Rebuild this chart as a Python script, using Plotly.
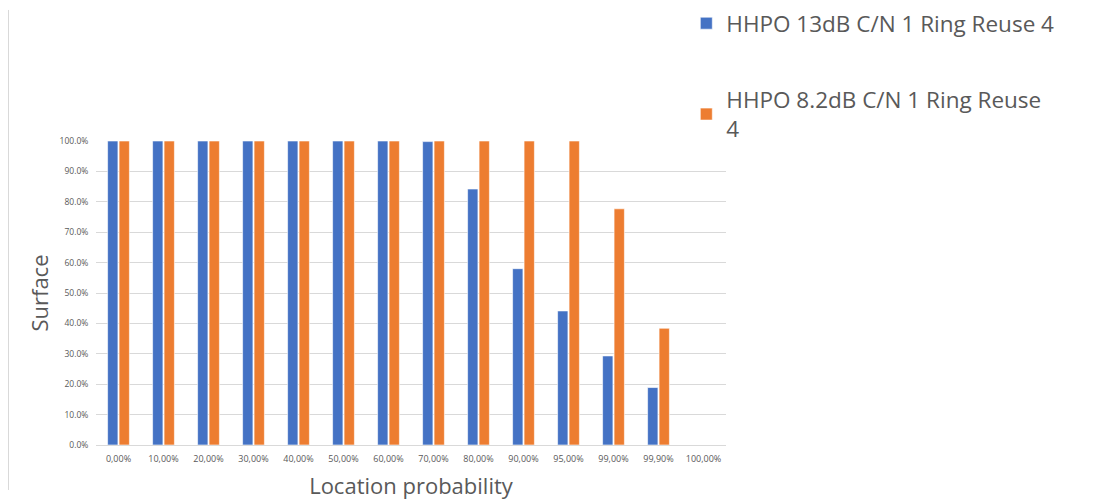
import plotly.graph_objects as go

CATEGORIES = ["0,00%", "10,00%", "20,00%", "30,00%", "40,00%", "50,00%", "60,00%",
              "70,00%", "80,00%", "90,00%", "95,00%", "99,00%", "99,90%", "100,00%"]
HHPO_13DB = [1.0, 1.0, 1.0, 1.0, 1.0, 1.0, 1.0, 0.998, 0.842, 0.580, 0.441, 0.293, 0.189, 0.0]
HHPO_8_2DB = [1.0, 1.0, 1.0, 1.0, 1.0, 1.0, 1.0, 1.0, 1.0, 1.0, 1.0, 0.777, 0.384, 0.0]

SERIES_NAMES = ["HHPO 13dB C/N 1 Ring Reuse 4", "HHPO 8.2dB C/N 1 Ring Reuse<br>4"]
COLORS = ["#4472c4", "#ed7d31"]
TEXT_GREY = "#595959"
LINE_GREY = "#d9d9d9"

fig = go.Figure()
for name, values, color in zip(SERIES_NAMES, [HHPO_13DB, HHPO_8_2DB], COLORS):
    fig.add_trace(go.Bar(
        x=CATEGORIES,
        y=values,
        name=name,
        legendgroup=name,
        marker=dict(color=color, line=dict(color="white", width=0.6)),
    ))

# the page body adds an 8px offset, so margins are shifted to compensate
fig.update_layout(
    width=1108,
    height=499,
    margin=dict(l=88, r=390, t=133, b=62, autoexpand=False),
    plot_bgcolor="white",
    paper_bgcolor="white",
    barmode="group",
    bargap=0.49,
    bargroupgap=0.1,
    font=dict(family="Open Sans, sans-serif", color=TEXT_GREY),
    legend=dict(
        x=0.937, y=1.457, xanchor="left", yanchor="top",
        font=dict(size=22.5, color=TEXT_GREY),
        tracegroupgap=44,
        itemwidth=30,
        bgcolor="rgba(0,0,0,0)",
    ),
    shapes=[dict(type="line", xref="paper", yref="paper",
                 x0=-0.1389, x1=-0.1389, y0=1.431, y1=-0.148,
                 line=dict(color=LINE_GREY, width=1))],
)

fig.update_yaxes(
    range=[0, 1.0],
    dtick=0.1,
    tickformat=".1%",
    tickfont=dict(size=8.5, color=TEXT_GREY),
    gridcolor=LINE_GREY,
    zeroline=False,
    showline=False,
    ticks="outside",
    ticklen=5,
    tickcolor="rgba(0,0,0,0)",
    automargin=False,
    title=dict(text="Surface", font=dict(size=22, color=TEXT_GREY), standoff=4),
)
fig.update_xaxes(
    tickfont=dict(size=9, color=TEXT_GREY),
    showline=True,
    linecolor=LINE_GREY,
    ticks="outside",
    ticklen=5,
    tickcolor="rgba(0,0,0,0)",
    automargin=False,
    title=dict(text="Location probability", font=dict(size=22, color=TEXT_GREY), standoff=14),
)

fig.write_html("out.html")
